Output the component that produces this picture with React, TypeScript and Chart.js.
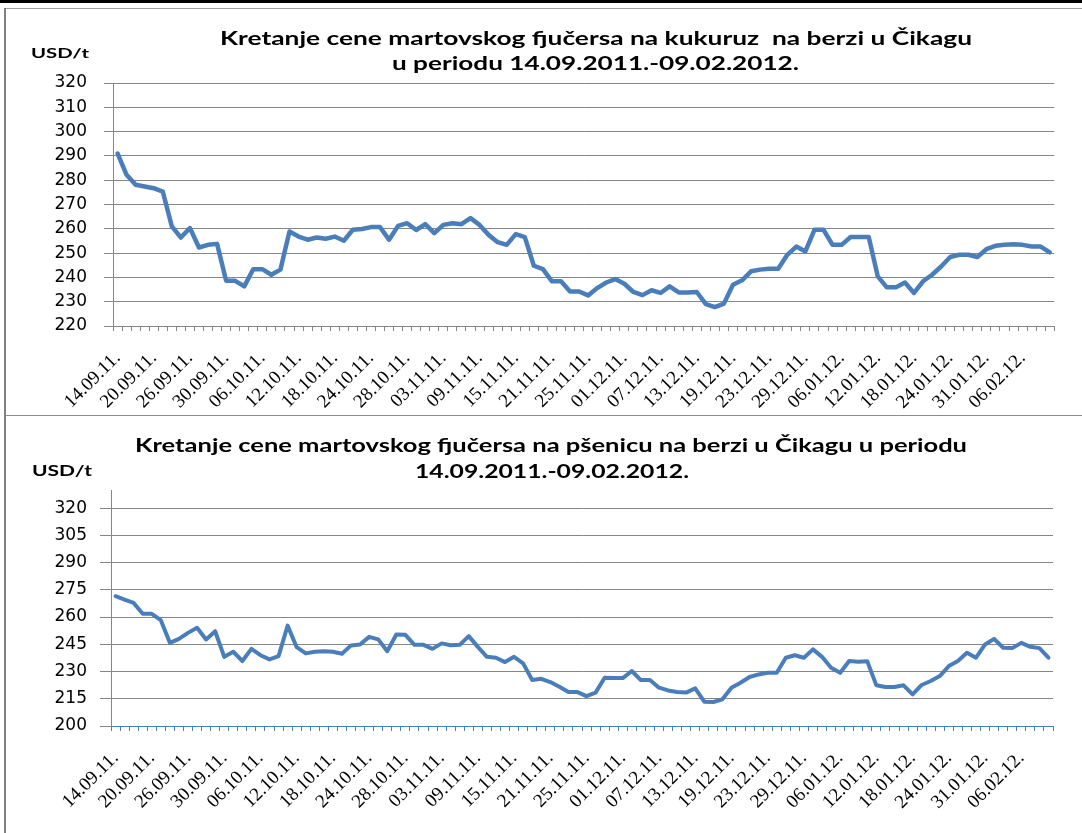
import React, { useEffect, useRef } from 'react';
import { Chart, registerables } from 'chart.js';

Chart.register(...registerables);

// ---- data ----
const tickLabels = [
  '14.09.11.', '20.09.11.', '26.09.11.', '30.09.11.', '06.10.11.', '12.10.11.',
  '18.10.11.', '24.10.11.', '28.10.11.', '03.11.11.', '09.11.11.', '15.11.11.',
  '21.11.11.', '25.11.11.', '01.12.11.', '07.12.11.', '13.12.11.', '19.12.11.',
  '23.12.11.', '29.12.11.', '06.01.12.', '12.01.12.', '18.01.12.', '24.01.12.',
  '31.01.12.', '06.02.12.',
];
const LABEL_EVERY = 4;

const cornPrices = [
  291.0, 282.2, 278.1, 277.4, 276.7, 275.3, 261.0, 256.4, 260.3, 252.3,
  253.4, 253.8, 238.6, 238.6, 236.3, 243.4, 243.4, 241.1, 243.2, 258.9,
  256.8, 255.5, 256.4, 255.9, 256.8, 255.1, 259.6, 259.9, 260.7, 260.7,
  255.5, 261.2, 262.3, 259.5, 261.9, 258.2, 261.6, 262.3, 261.9, 264.4,
  261.6, 257.5, 254.5, 253.4, 257.8, 256.6, 244.8, 243.4, 238.4, 238.4,
  234.2, 234.2, 232.6, 235.6, 237.9, 239.3, 237.4, 234.0, 232.7, 234.7,
  233.6, 236.3, 233.8, 233.8, 234.0, 229.0, 227.8, 229.2, 237.0, 238.8,
  242.5, 243.2, 243.6, 243.6, 249.3, 252.7, 250.7, 259.6, 259.6, 253.4,
  253.4, 256.6, 256.6, 256.6, 240.4, 235.9, 235.9, 237.9, 233.6, 238.4,
  241.1, 244.5, 248.4, 249.3, 249.3, 248.4, 251.6, 253.0, 253.4, 253.6,
  253.4, 252.7, 252.7, 250.3,
];

const wheatPrices = [
  271.5, 269.6, 267.8, 261.8, 261.8, 258.3, 245.8, 248.0, 251.3, 254.1,
  247.7, 252.2, 238.1, 240.9, 235.8, 242.5, 239.0, 236.7, 238.5, 255.3,
  243.4, 240.0, 240.9, 241.2, 240.9, 239.8, 244.4, 244.9, 249.1, 247.7,
  241.2, 250.4, 250.2, 244.7, 244.7, 242.5, 245.5, 244.5, 244.7, 249.5,
  243.6, 238.1, 237.6, 235.2, 238.1, 234.5, 225.3, 226.0, 224.2, 221.6,
  218.7, 218.7, 216.5, 218.4, 226.6, 226.4, 226.4, 230.3, 225.3, 225.3,
  221.1, 219.6, 218.7, 218.4, 220.7, 213.4, 213.2, 214.7, 221.1, 223.8,
  227.0, 228.4, 229.3, 229.3, 237.6, 239.0, 237.6, 242.2, 238.1, 232.1,
  229.3, 235.8, 235.4, 235.6, 222.4, 221.5, 221.5, 222.4, 217.4, 222.6,
  224.8, 227.5, 233.0, 235.8, 240.3, 237.6, 244.9, 248.0, 243.1, 242.9,
  245.8, 243.6, 242.9, 237.6,
];

const cornYTicks = [220, 230, 240, 250, 260, 270, 280, 290, 300, 310, 320];
const wheatYTicks = [200, 215, 230, 245, 260, 275, 290, 305, 320];
const cornYRange = { min: 220, max: 320 };
const wheatYRange = { min: 200, max: 330 };

const cornTitle = [
  'Kretanje cene martovskog fjučersa na kukuruz  na berzi u Čikagu',
  'u periodu 14.09.2011.-09.02.2012.',
];
const wheatTitle = [
  'Kretanje cene martovskog fjučersa na pšenicu na berzi u Čikagu u periodu',
  '14.09.2011.-09.02.2012.',
];
const unitLabel = 'USD/t';

const categories = cornPrices.map((_, i) =>
  i % LABEL_EVERY === 0 ? tickLabels[i / LABEL_EVERY] ?? '' : ''
);

const LINE_COLOR = '#4A7EBB';
const GRID_COLOR = '#868686';

// draws titles / unit label, stretched horizontally to a target width
const overlayText = {
  id: 'overlayText',
  afterDraw(chart: any, _args: any, opts: any) {
    const ctx = chart.ctx;
    (opts.items || []).forEach((it: any) => {
      ctx.save();
      ctx.font = it.font;
      ctx.fillStyle = '#000';
      ctx.textAlign = 'left';
      ctx.textBaseline = 'alphabetic';
      const w = ctx.measureText(it.text).width;
      const sx = it.width ? it.width / w : 1;
      ctx.translate(it.x, it.y);
      ctx.scale(sx, 1);
      ctx.fillText(it.text, 0, 0);
      ctx.restore();
    });
  },
};

function makeConfig(p: any) {
  return {
    type: 'line',
    data: {
      labels: categories,
      datasets: [
        {
          data: p.values,
          borderColor: LINE_COLOR,
          borderWidth: p.lineWidth,
          pointRadius: 0,
          tension: 0,
          fill: false,
          borderJoinStyle: 'round',
          borderCapStyle: 'round',
        },
      ],
    },
    options: {
      responsive: false,
      animation: false,
      layout: { padding: { top: p.padTop, right: p.padRight, left: 0, bottom: 0 } },
      plugins: {
        legend: { display: false },
        tooltip: { enabled: false },
        title: { display: false },
        overlayText: { items: p.texts },
      },
      scales: {
        x: {
          offset: true,
          grid: {
            display: true,
            drawOnChartArea: false,
            drawTicks: true,
            tickLength: 5,
            offset: true,
            color: p.xAxisColor,
            lineWidth: 1,
          },
          border: { display: true, color: p.xAxisColor, width: 1 },
          ticks: {
            autoSkip: false,
            maxRotation: 45,
            minRotation: 45,
            padding: 16,
            color: '#000',
            font: { family: 'Liberation Serif', size: 19 },
          },
          afterFit: (s: any) => {
            s.height = p.xAxisHeight;
          },
        },
        y: {
          min: p.range.min,
          max: p.range.max,
          ticks: {
            color: '#000',
            padding: p.yPad,
            font: { family: 'DejaVu Sans', size: 17 },
          },
          grid: {
            color: (c: any) =>
              c.tick && c.tick.value === p.hideGridAt ? 'rgba(0,0,0,0)' : GRID_COLOR,
            tickColor: GRID_COLOR,
            tickLength: p.yTickLen,
            lineWidth: 1,
          },
          border: { color: GRID_COLOR, width: 1 },
          afterFit: (s: any) => {
            s.width = p.yAxisWidth;
          },
          afterBuildTicks: (s: any) => {
            s.ticks = p.yTicks.map((v: number) => ({ value: v }));
          },
        },
      },
    },
    plugins: [overlayText],
  };
}

function LineChart(props: { cfg: any; width: number; height: number; top: number }) {
  const ref = useRef<HTMLCanvasElement>(null);
  useEffect(() => {
    if (!ref.current) return;
    const chart = new Chart(ref.current, props.cfg);
    return () => chart.destroy();
  }, []);
  return (
    <canvas
      ref={ref}
      width={props.width}
      height={props.height}
      style={{ position: 'absolute', left: 0, top: props.top, width: props.width, height: props.height }}
    />
  );
}

export default function App() {
  const topCfg = makeConfig({
    values: cornPrices,
    range: cornYRange,
    yTicks: cornYTicks,
    lineWidth: 4.5,
    padTop: 83,
    padRight: 26,
    xAxisHeight: 89,
    yAxisWidth: 113,
    yTickLen: 9,
    yPad: 17,
    xAxisColor: GRID_COLOR,
    hideGridAt: null,
    texts: [
      { text: cornTitle[0], x: 220, y: 45, width: 752, font: 'bold 18px Lato' },
      { text: cornTitle[1], x: 392, y: 70, width: 407, font: 'bold 18px Lato' },
      { text: unitLabel, x: 31, y: 58, width: 58, font: 'bold 13px Lato' },
    ],
  });
  const bottomCfg = makeConfig({
    values: wheatPrices,
    range: wheatYRange,
    yTicks: wheatYTicks,
    lineWidth: 4,
    padTop: 75,
    padRight: 29,
    xAxisHeight: 107,
    yAxisWidth: 111,
    yTickLen: 11,
    yPad: 13,
    xAxisColor: LINE_COLOR,
    hideGridAt: 200,
    texts: [
      { text: wheatTitle[0], x: 135, y: 37, width: 832, font: 'bold 18px Lato' },
      { text: wheatTitle[1], x: 415, y: 63, width: 274, font: 'bold 18px Lato' },
      { text: unitLabel, x: 32, y: 61, width: 60, font: 'bold 15px Lato' },
    ],
  });

  return (
    <div style={{ position: 'absolute', left: 0, top: 0, width: 1082, height: 833, background: '#fff', overflow: 'hidden' }}>
      <LineChart cfg={topCfg} width={1082} height={415} top={0} />
      <LineChart cfg={bottomCfg} width={1082} height={418} top={415} />
      <div style={{ position: 'absolute', left: 0, top: 0, width: 1082, height: 3, background: '#000' }} />
      <div style={{ position: 'absolute', left: 4, top: 8, width: 1078, height: 1, background: '#a0a0a0' }} />
      <div style={{ position: 'absolute', left: 4, top: 8, width: 2, height: 825, background: '#808080' }} />
      <div style={{ position: 'absolute', left: 6, top: 415, width: 1076, height: 1, background: '#8c8c8c' }} />
    </div>
  );
}
